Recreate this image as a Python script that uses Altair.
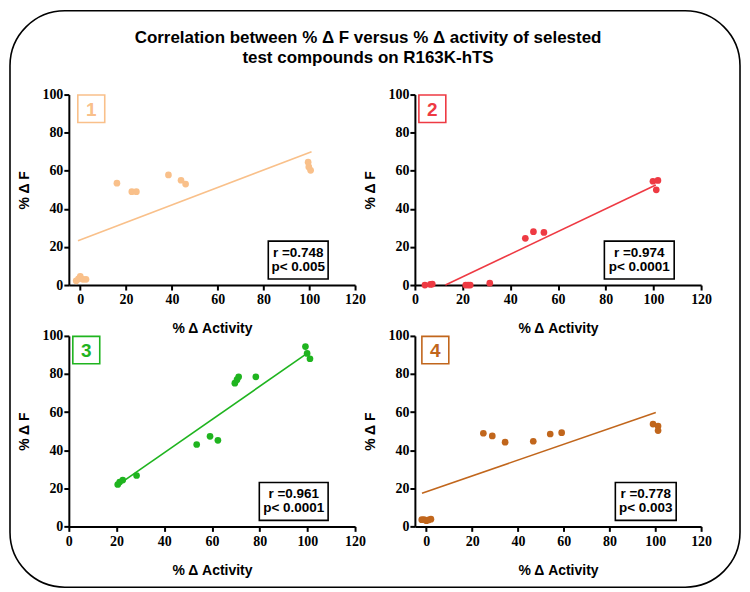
import altair as alt
import pandas as pd

# ---------------- data ----------------
title_lines = ["Correlation between % \u0394 F versus % \u0394 activity of selested",
               "test compounds on R163K-hTS"]
x_title = "% \u0394 Activity"
y_title = "% \u0394 F"
panel_ids = ["1", "2", "3", "4"]

p1_x = [-1.8, -0.8, 0.0, 1.2, 2.5, 16.0, 22.5, 24.5, 38.5, 44.0, 46.0, 99.5, 99.8, 100.6]
p1_y = [2.2, 3.2, 4.5, 3.0, 3.0, 53.5, 49.0, 49.0, 57.8, 55.0, 53.0, 64.5, 62.0, 60.2]
fit1_x = [-1.0, 101.0]
fit1_y = [23.2, 70.0]

p2_x = [4.2, 6.5, 7.3, 21.3, 22.3, 23.2, 31.4, 46.3, 49.7, 54.1, 99.8, 101.9, 101.2]
p2_y = [0.0, 0.3, 0.5, 0.0, 0.0, 0.0, 1.0, 24.5, 28.0, 27.6, 54.5, 54.9, 50.0]
fit2_x = [12.8, 101.0]
fit2_y = [0.0, 52.5]

p3_x = [20.5, 21.3, 22.6, 28.4, 53.6, 59.2, 62.5, 69.6, 70.5, 71.2, 78.4, 99.2, 99.9, 101.1]
p3_y = [22.0, 23.3, 24.3, 26.7, 43.0, 47.3, 45.2, 75.2, 77.0, 78.5, 78.5, 94.4, 90.8, 88.0]
fit3_x = [20.0, 100.8]
fit3_y = [21.3, 91.6]

p4_x = [-2.0, -1.0, 0.0, 1.0, 2.0, 24.9, 28.8, 34.4, 46.7, 54.1, 59.1, 99.0, 101.2, 101.2]
p4_y = [3.5, 3.6, 3.0, 3.4, 3.8, 48.9, 47.5, 44.2, 44.7, 48.5, 49.2, 53.7, 52.7, 50.3]
fit4_x = [-1.9, 100.2]
fit4_y = [17.4, 59.8]

stats = [["r =0.748", "p< 0.005"], ["r =0.974", "p< 0.0001"],
         ["r =0.961", "p< 0.0001"], ["r =0.778", "p< 0.003"]]

x_ticks = [0, 20, 40, 60, 80, 100, 120]
y_ticks = [0, 20, 40, 60, 80, 100]

# ---------------- styling / layout ----------------
colors = ["#F9C08A", "#EE3A43", "#1FB41F", "#C1661C"]
x_domains = [[-5, 120], [0, 120], [0, 120], [-5, 120]]
badge_x = [[9, 36], [4, 31], [4, 31], [7, 34]]
stat_x = [[200, 260], [190, 260], [191, 260], [201, 262]]
W, H = 287, 191
SANS = "Liberation Sans, Arial, sans-serif"
SERIF = "Times New Roman, Liberation Serif, DejaVu Serif, serif"

series = [(p1_x, p1_y, fit1_x, fit1_y), (p2_x, p2_y, fit2_x, fit2_y),
          (p3_x, p3_y, fit3_x, fit3_y), (p4_x, p4_y, fit4_x, fit4_y)]

axis_style = dict(
    grid=False, labelFlush=False, labelOverlap=False,
    domainColor="black", domainWidth=2, tickColor="black", tickWidth=2, tickSize=5,
    labelFont=SERIF, labelFontWeight="bold", labelFontSize=14, labelColor="black",
    titleFont=SANS, titleFontWeight="bold", titleFontSize=14, titleColor="black",
)


def panel(i):
    px, py, fx, fy = series[i]
    c = colors[i]
    pts = pd.DataFrame({"x": px, "y": py})
    fit = pd.DataFrame({"x": fx, "y": fy})
    one = pd.DataFrame({"k": [0]})
    xs = alt.Scale(domain=x_domains[i], nice=False, zero=False)
    ys = alt.Scale(domain=[0, 100], nice=False)
    xax = alt.Axis(values=x_ticks, title=x_title, labelPadding=3, titlePadding=15, **axis_style)
    yax = alt.Axis(values=y_ticks, title=y_title, labelPadding=1, titlePadding=10, **axis_style)
    line = alt.Chart(fit).mark_line(color=c, strokeWidth=1.6).encode(
        x=alt.X("x:Q", scale=xs, axis=xax),
        y=alt.Y("y:Q", scale=ys, axis=yax),
    )
    dots = alt.Chart(pts).mark_circle(color=c, size=45, opacity=1).encode(
        x=alt.X("x:Q", scale=xs, axis=xax),
        y=alt.Y("y:Q", scale=ys, axis=yax),
    )
    b0, b1 = badge_x[i]
    badge = alt.Chart(one).mark_rect(fillOpacity=0, stroke=c, strokeWidth=1.6).encode(
        x=alt.value(b0), x2=alt.value(b1), y=alt.value(0.5), y2=alt.value(28))
    badge_t = alt.Chart(one).mark_text(
        color=c, font=SANS, fontWeight="bold", fontSize=19,
        align="center", baseline="middle").encode(
        x=alt.value((b0 + b1) / 2), y=alt.value(15), text=alt.value(panel_ids[i]))
    s0, s1 = stat_x[i]
    sbox = alt.Chart(one).mark_rect(fillOpacity=0, stroke="black", strokeWidth=1.6).encode(
        x=alt.value(s0), x2=alt.value(s1), y=alt.value(147), y2=alt.value(185))
    stext = alt.Chart(one).mark_text(
        color="black", font=SANS, fontWeight="bold", fontSize=13.5, lineHeight=14,
        align="center", baseline="middle").encode(
        x=alt.value((s0 + s1) / 2), y=alt.value(159), text=alt.value(stats[i]))
    layers = [line, dots, badge, badge_t, sbox, stext]
    if i == 0:
        frame = alt.Chart(one).mark_rect(
            fillOpacity=0, stroke="black", strokeWidth=1.6, cornerRadius=55).encode(
            x=alt.value(-59), x2=alt.value(673), y=alt.value(-84), y2=alt.value(494))
        title = alt.Chart(one).mark_text(
            color="black", font=SANS, fontWeight="bold", fontSize=17, lineHeight=20,
            align="center", baseline="middle").encode(
            x=alt.value(300), y=alt.value(-57), text=alt.value(title_lines))
        layers = [frame] + layers + [title]
    return alt.layer(*layers).properties(width=W, height=H)


chart = alt.concat(
    panel(0), panel(1), panel(2), panel(3),
    columns=2, spacing={"row": 51, "column": 60}, bounds="flush",
).properties(padding=0).configure_view(stroke="transparent")

chart.save("out.html", embed_options={"renderer": "svg", "actions": False})
